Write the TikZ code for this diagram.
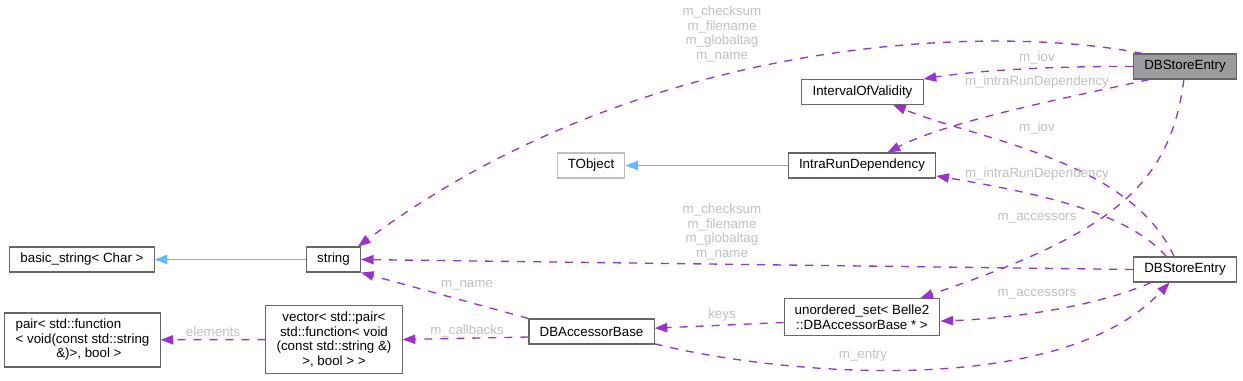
\documentclass[tikz,border=0pt]{standalone}
\usepackage{fontspec}
\setmainfont{Liberation Sans}
\usetikzlibrary{arrows.meta}

\definecolor{memberclr}{HTML}{9A32CD}
\definecolor{inheritclr}{HTML}{63B8FF}
\definecolor{labelclr}{HTML}{C0C0C0}
\definecolor{boxclr}{HTML}{666666}
\definecolor{extclr}{HTML}{BFBFBF}

\begin{document}
\begin{tikzpicture}[x=0.75pt, y=-0.75pt,
  clsbox/.style={rectangle, draw=boxclr, line width=0.8pt, fill=white, align=center,
    inner xsep=8pt, inner ysep=4.7pt, minimum height=18.75pt,
    font=\fontsize{10}{10.9}\selectfont},
  extbox/.style={clsbox, draw=extclr},
  curbox/.style={clsbox, fill=boxclr!65},
  lbl/.style={text=labelclr, align=center, inner sep=0pt, font=\fontsize{10}{10.9}\selectfont},
  member/.style={-{Triangle[length=9.5pt, width=7pt]}, draw=memberclr,
    line width=1pt, dash pattern=on 6pt off 6pt},
  inherit/.style={-{Triangle[length=9.5pt, width=7pt]}, draw=inheritclr,
    line width=1.2pt}
]
  \useasboundingbox (0,0) rectangle (1243,380);

  \node[curbox] (dbtop)  at (1185,  66.5) {DBStoreEntry};
  \node[clsbox] (iov)    at (862.5, 92)   {IntervalOfValidity};
  \node[clsbox] (intra)  at (862,  165.5) {IntraRunDependency};
  \node[extbox] (tobj)   at (591,  165.5) {TObject};
  \node[clsbox] (str)    at (333.5,259.5) {string};
  \node[clsbox] (bstr)   at (82,   259.5) {basic\_string< Char >};
  \node[clsbox, align=left] (pair) at (82.5, 340)
    {pair< std::function\\< void(const std::string\\\hspace*{3.05em}\&)>, bool >};
  \node[clsbox] (vec)    at (334,  339.5) {vector< std::pair<\\std::function< void\\(const std::string \&)\\>, bool > >};
  \node[clsbox] (acc)    at (591.5,331.5) {DBAccessorBase};
  \node[clsbox] (uset)   at (862,  317)   {unordered\_set< Belle2\\::DBAccessorBase * >};
  \node[clsbox] (dbent)  at (1185, 269.5) {DBStoreEntry};

  % inheritance
  \draw[inherit] (str)   -- (bstr);
  \draw[inherit] (intra) -- (tobj);

  % members of the upper DBStoreEntry
  \draw[member] (dbtop.163) .. controls (1000,25) and (650,30) .. (str.28);
  \draw[member] (dbtop.west) .. controls (1060,66) and (980,70) .. (iov.north east);
  \draw[member] (dbtop.-160) .. controls (1080,95) and (950,120) .. (intra.27);
  \draw[member] (dbtop.-95) .. controls (1170,190) and (1105,235) .. (uset.18);

  % members of the lower DBStoreEntry
  \draw[member] (dbent.130) .. controls (1130,160) and (980,140) .. (iov.-23);
  \draw[member] (dbent.145) .. controls (1130,215) and (1050,195) .. (intra.-8);
  \draw[member] (dbent.west) -- (str.east);
  \draw[member] (dbent.-159) .. controls (1100,305) and (1020,318) .. (uset.-3);

  % the rest
  \draw[member] (acc.-11) .. controls (780,375) and (1060,400) .. (dbent.-140);
  \draw[member] (uset.184) -- (acc.3);
  \draw[member] (acc.north west) -- (str.south east);
  \draw[member] (acc.185) -- (vec.east);
  \draw[member] (vec) -- (pair);

  \node[lbl] (lStrTop) at (722, 34)   {m\_checksum\\m\_filename\\m\_globaltag\\m\_name};
  \node[lbl] (lIovTop) at (1037, 58)  {m\_iov};
  \node[lbl] (lIrdTop) at (1037, 82)  {m\_intraRunDependency};
  \node[lbl] (lIovLow) at (1037, 128) {m\_iov};
  \node[lbl] (lIrdLow) at (1037, 174) {m\_intraRunDependency};
  \node[lbl] (lAccTop) at (1037, 218) {m\_accessors};
  \node[lbl] (lStrLow) at (722, 232)  {m\_checksum\\m\_filename\\m\_globaltag\\m\_name};
  \node[lbl] (lAccLow) at (1037, 294) {m\_accessors};
  \node[lbl] (lEntry)  at (863, 356)  {m\_entry};
  \node[lbl] (lKeys)   at (722, 315)  {keys};
  \node[lbl] (lName)   at (467, 285)  {m\_name};
  \node[lbl] (lCallb)  at (467, 331)  {m\_callbacks};
  \node[lbl] (lElem)   at (213, 332)  {elements};
\end{tikzpicture}
\end{document}
